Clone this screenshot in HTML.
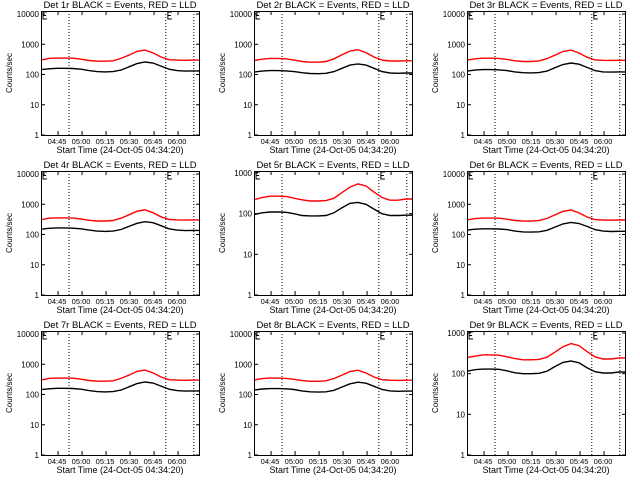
<!DOCTYPE html>
<html><head><meta charset="utf-8"><style>
html,body{margin:0;padding:0;background:#fff;}
svg{display:block;font-family:"Liberation Sans",sans-serif;}
</style></head><body>
<svg id="c" width="640" height="480" viewBox="0 0 640 480"></svg>
<script>
const times = [0,5,10,15,20,25,30,35,40,45,50,55,60,65,70,75,80,85,90,95];
const xTickLabels = ["04:45","05:00","05:15","05:30","05:45","06:00"];
const xTickMinutes = [10.67,25.67,40.67,55.67,70.67,85.67];
const markerMinutes = [17.5,78,95.5];
const detNames = ["1r","2r","3r","4r","5r","6r","7r","8r","9r"];
const yTopExp = [4.1,4.1,4.1,4.1,3.05,4.1,4.1,4.1,3.05];
const red1 = [300,340,350,350,345,320,290,275,275,285,340,440,580,640,520,380,310,300,295,300];
const blk1 = [145,155,160,160,158,150,135,125,122,125,140,180,230,260,240,190,150,135,130,132];
const red2 = [290,320,340,340,330,300,270,255,255,270,330,450,600,660,530,380,300,280,280,285];
const blk2 = [120,130,135,135,132,125,115,108,106,110,125,160,205,225,205,160,125,112,110,112];
const red3 = [300,330,345,345,340,315,285,270,270,282,335,440,575,640,515,375,305,295,292,296];
const blk3 = [130,140,145,145,142,135,122,115,113,116,130,168,215,240,220,172,135,122,120,122];
const red4 = [310,345,355,355,350,325,295,280,280,290,345,450,590,650,525,385,315,305,300,305];
const blk4 = [150,160,165,165,162,155,140,130,127,130,146,185,235,265,245,195,155,140,135,137];
const red5 = [220,250,270,270,265,240,220,205,205,210,240,330,450,540,480,340,250,215,215,230];
const blk5 = [95,105,110,110,108,100,90,88,88,90,105,140,180,190,170,130,100,90,90,92];
const red6 = [305,335,350,350,345,320,290,278,278,288,340,445,585,645,520,380,312,302,298,302];
const blk6 = [140,150,155,155,152,145,130,122,120,123,138,176,225,252,232,185,145,130,126,128];
const red7 = [300,340,350,350,345,320,290,275,275,285,340,440,580,640,520,380,310,300,295,300];
const blk7 = [145,155,160,160,158,150,135,125,122,125,140,180,230,260,240,190,150,135,130,132];
const red8 = [300,335,348,348,342,318,288,273,273,283,338,438,575,635,515,378,308,298,293,298];
const blk8 = [140,152,157,157,155,147,132,123,120,123,138,177,226,255,236,187,147,132,128,130];
const red9 = [250,270,290,290,285,260,235,220,220,225,255,340,460,550,490,350,260,230,230,245];
const blk9 = [115,125,130,130,128,118,105,100,100,102,115,150,190,205,185,140,112,104,104,110];
const reds=[red1,red2,red3,red4,red5,red6,red7,red8,red9];
const blks=[blk1,blk2,blk3,blk4,blk5,blk6,blk7,blk8,blk9];
const NS="http://www.w3.org/2000/svg";
const svg=document.getElementById('c');
function mk(tag,attrs,parent){const e=document.createElementNS(NS,tag);for(const k in attrs)e.setAttribute(k,attrs[k]);parent.appendChild(e);return e;}
const W=158,H=124,TMAX=98.75;
for(let p=0;p<9;p++){
  const col=p%3,row=Math.floor(p/3);
  const L=41+col*213,T=11+row*160,R=L+W,B=T+H;
  const g=mk('g',{},svg);
  
  
  const top=yTopExp[p];
  const xs=t=>L+t/TMAX*W;
  const ys=v=>B-Math.log10(v)/top*H;
  const t1=mk('text',{x:(L+R)/2,y:T-3,'text-anchor':'middle','font-size':'9.5'},g);
  t1.textContent='Det '+detNames[p]+' BLACK = Events, RED = LLD';
  
  
  markerMinutes.forEach(m=>{const l=mk('line',{x1:xs(m),x2:xs(m),y1:T,y2:B,stroke:'#000','stroke-width':1,'stroke-dasharray':'1,2'},g);
    });
  [xs(1.3),xs(79.3)].forEach(x=>{const b=mk('path',{d:`M${x+4},${T+1}H${x}V${T+8}H${x+4}M${x},${T+4.5}H${x+3}`,fill:'none',stroke:'#000','stroke-width':1},g);
    });
  [[reds[p],'#ff0000','lld-series'],[blks[p],'#000','events-series']].forEach(([arr,c,n])=>{
    let d='';arr.forEach((v,i)=>{d+=(i?'L':'M')+xs(times[i]).toFixed(1)+','+ys(v).toFixed(1);});
    d+='L'+R+','+ys(arr[arr.length-1]).toFixed(1);
    const pa=mk('path',{d:d,fill:'none',stroke:c,'stroke-width':1.4},g);
    
  });
  const bx=mk('rect',{x:L+0.5,y:T+0.5,width:W,height:H,fill:'none',stroke:'#000','stroke-width':1},g);
  
  for(let e=0;e<=Math.floor(top);e++){
    const y=ys(Math.pow(10,e));
    mk('line',{x1:L,x2:L+4,y1:y,y2:y,stroke:'#000'},g);
    mk('line',{x1:R-3,x2:R+1,y1:y,y2:y,stroke:'#000'},g);
    const tl=mk('text',{x:L-2,y:y+3,'text-anchor':'end','font-size':'8'},g);
    tl.textContent=String(Math.pow(10,e));
    
  }
  xTickMinutes.forEach((m,i)=>{const x=xs(m);
    mk('line',{x1:x,x2:x,y1:B,y2:B-4,stroke:'#000'},g);
    mk('line',{x1:x,x2:x,y1:T,y2:T+4,stroke:'#000'},g);
    const tl=mk('text',{x:x-1,y:B+9,'text-anchor':'middle','font-size':'7.5'},g);
    tl.textContent=xTickLabels[i];
    
  });
  const xl=mk('text',{x:(L+R)/2,y:B+18,'text-anchor':'middle','font-size':'9'},g);
  xl.textContent='Start Time (24-Oct-05 04:34:20)';
  
  const yl=mk('text',{x:0,y:0,'text-anchor':'middle','font-size':'8',transform:`translate(${L-29},${(T+B)/2}) rotate(-90)`},g);
  yl.textContent='Counts/sec';
  
}
</script>
</body></html>
